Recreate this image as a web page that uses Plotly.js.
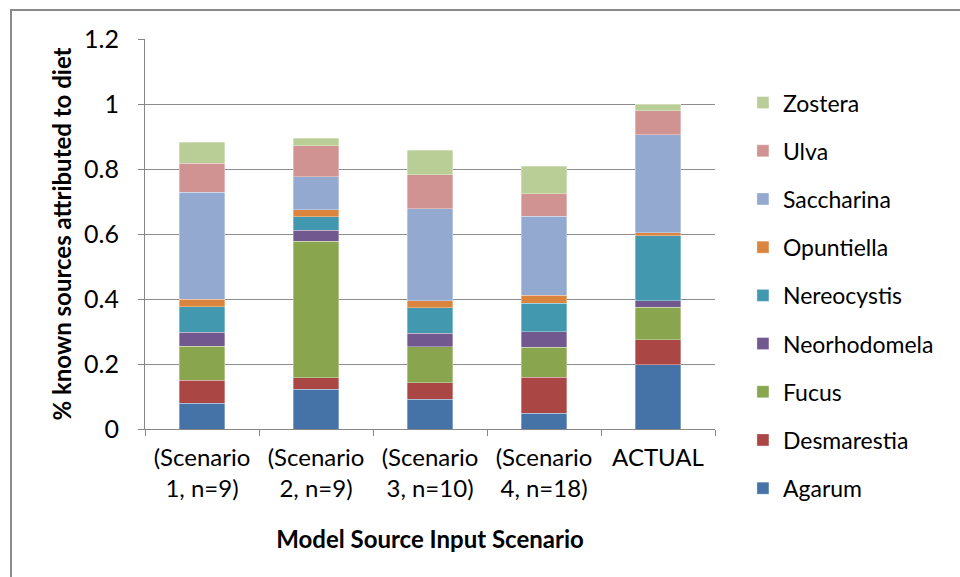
<!DOCTYPE html>
<html>
<head>
<meta charset="utf-8">
<script src="https://cdn.plot.ly/plotly-3.0.1.min.js"></script>
<style>
  html, body { margin: 0; padding: 0; background: #fff; }
  #frame { position: absolute; left: 10px; top: 9px; width: 960px; height: 580px;
           border-left: 2px solid #8a8a8a; border-top: 2px solid #8a8a8a; }
  #chart { position: absolute; left: 0; top: 0; width: 960px; height: 577px; }
</style>
</head>
<body>
<div id="frame"></div>
<div id="chart"></div>
<script>
const categories = [
  "(Scenario<br>1, n=9)",
  "(Scenario<br>2, n=9)",
  "(Scenario<br>3, n=10)",
  "(Scenario<br>4, n=18)",
  "ACTUAL"
];
const seriesNames = ["Agarum", "Desmarestia", "Fucus", "Neorhodomela", "Nereocystis",
                     "Opuntiella", "Saccharina", "Ulva", "Zostera"];
const agarum       = [0.079, 0.122, 0.091, 0.049, 0.198];
const desmarestia  = [0.071, 0.036, 0.051, 0.110, 0.076];
const fucus        = [0.104, 0.420, 0.111, 0.093, 0.100];
const neorhodomela = [0.044, 0.033, 0.041, 0.048, 0.020];
const nereocystis  = [0.078, 0.042, 0.079, 0.087, 0.200];
const opuntiella   = [0.024, 0.022, 0.022, 0.025, 0.010];
const saccharina   = [0.329, 0.101, 0.283, 0.243, 0.301];
const ulva         = [0.088, 0.095, 0.104, 0.069, 0.074];
const zostera      = [0.066, 0.023, 0.076, 0.084, 0.021];
const seriesValues = [agarum, desmarestia, fucus, neorhodomela, nereocystis,
                      opuntiella, saccharina, ulva, zostera];
const colors = ["#4572A7", "#AA4643", "#89A54E", "#71588F", "#4198AF",
                "#DB843D", "#93A9CF", "#D19392", "#B9CD96"];
const yTicks = [0, 0.2, 0.4, 0.6, 0.8, 1, 1.2];
const yTickText = ["0", "0.2", "0.4", "0.6", "0.8", "1", "1.2"];

const FONT = "Lato, 'Open Sans', sans-serif";

const traces = seriesNames.map((name, i) => ({
  type: "bar",
  name: name,
  legendgroup: name,
  legendrank: seriesNames.length - i,
  x: categories,
  y: seriesValues[i],
  marker: { color: colors[i], line: { color: "rgba(255,255,255,0.55)", width: 0.6 } },
  hoverinfo: "name+y"
}));

const layout = {
  width: 960,
  height: 577,
  paper_bgcolor: "rgba(0,0,0,0)",
  plot_bgcolor: "rgba(0,0,0,0)",
  margin: { l: 145, r: 245, t: 39, b: 148, pad: 0 },
  barmode: "stack",
  bargap: 0.6,
  font: { family: FONT, size: 24, color: "#000" },
  showlegend: true,
  legend: {
    x: 1.049, xanchor: "left",
    y: 0.892, yanchor: "top",
    traceorder: "grouped",
    tracegroupgap: 15.3,
    maxheight: 560,
    font: { family: FONT, size: 23, color: "#000" },
    bgcolor: "rgba(0,0,0,0)"
  },
  xaxis: {
    type: "category",
    automargin: false,
    showline: true, linecolor: "#868686", linewidth: 1,
    ticks: "outside", tickson: "boundaries", ticklen: 6, tickcolor: "#868686",
    ticklabelstandoff: 7,
    showgrid: false,
    tickfont: { family: FONT, size: 24, color: "#000" },
    title: { text: "<b>Model Source Input Scenario</b>", font: { family: FONT, size: 24, color: "#000" }, standoff: 30 }
  },
  yaxis: {
    automargin: false,
    range: [0, 1.2],
    tickmode: "array", tickvals: yTicks, ticktext: yTickText,
    showline: true, linecolor: "#868686", linewidth: 1,
    ticks: "outside", ticklen: 6, tickcolor: "#868686",
    ticklabelstandoff: 14,
    showgrid: true, gridcolor: "#8c8c8c", gridwidth: 1,
    zeroline: false,
    tickfont: { family: FONT, size: 25, color: "#000" },
    title: { text: "<b>% known sources attributed to diet</b>", font: { family: FONT, size: 24, color: "#000" }, standoff: 5 }
  }
};

Plotly.newPlot("chart", traces, layout, { displayModeBar: false, staticPlot: true });
</script>
</body>
</html>
